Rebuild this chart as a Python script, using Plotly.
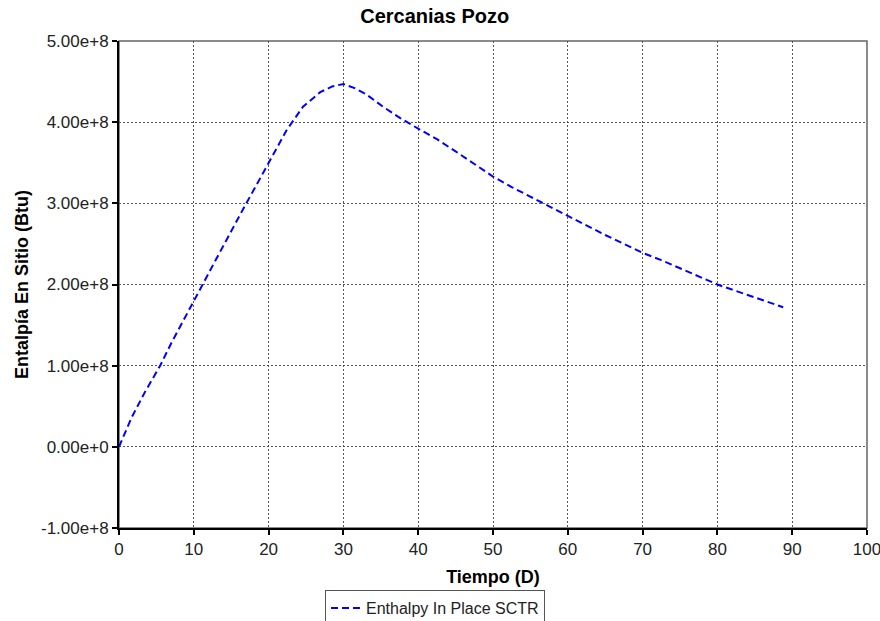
import plotly.graph_objects as go

tiempo = [0, 1.7, 3.5, 5.5, 7.0, 8.6, 10.2, 11.3, 12.8, 14.4, 16.6, 19.3, 20.2, 22.4, 24.6, 26.9, 28.5, 30.0,
          31.5, 33.1, 35.3, 37.6, 40, 42.5, 45, 47.5, 50, 52.5, 55, 57.5, 60, 62.5, 65, 67.5, 70,
          72.5, 75, 77.5, 80, 82.5, 85, 87, 88.8]
entalpia = [0.0, 0.364e8, 0.68e8, 1.0e8, 1.28e8, 1.55e8, 1.82e8, 2.02e8, 2.28e8, 2.56e8, 2.93e8, 3.38e8, 3.53e8,
            3.90e8, 4.19e8, 4.37e8, 4.44e8, 4.47e8,
            4.42e8, 4.34e8, 4.19e8, 4.05e8, 3.92e8, 3.79e8, 3.64e8, 3.49e8, 3.33e8, 3.20e8, 3.08e8, 2.96e8,
            2.84e8, 2.72e8, 2.61e8, 2.50e8, 2.39e8, 2.30e8, 2.20e8, 2.10e8, 2.00e8, 1.92e8, 1.84e8, 1.77e8, 1.72e8]

x_ticks = [0, 10, 20, 30, 40, 50, 60, 70, 80, 90, 100]
y_ticks = [-1e8, 0, 1e8, 2e8, 3e8, 4e8, 5e8]
y_ticktext = ["-1.00e+8", "0.00e+0", "1.00e+8", "2.00e+8", "3.00e+8", "4.00e+8", "5.00e+8"]

font_family = "Arial, Liberation Sans, sans-serif"

fig = go.Figure()
fig.add_trace(go.Scatter(
    x=tiempo, y=entalpia, mode="lines", name="Enthalpy In Place SCTR",
    line=dict(color="#0000FF", width=2, dash="7px,4px"),
))

fig.update_layout(
    width=880, height=621,
    margin=dict(l=119, r=13, t=41, b=93, autoexpand=False),
    paper_bgcolor="white", plot_bgcolor="white",
    font=dict(family=font_family, size=16, color="black"),
    title=dict(text="<b>Cercanias Pozo</b>", x=0.494, xref="container", xanchor="center",
               y=0.985, yref="container", yanchor="top", font=dict(size=20, color="black")),
    showlegend=True,
    legend=dict(orientation="h", x=0.4225, xanchor="center", y=0.0499, yref="container", yanchor="top",
                bordercolor="#555555", borderwidth=1, bgcolor="white",
                font=dict(size=16, color="#222222")),
    shapes=[dict(type="rect", xref="paper", yref="paper", x0=0, y0=0, x1=1, y1=1,
                 line=dict(color="#666666", width=1.5), layer="below")],
)

fig.update_xaxes(
    range=[0, 100], tickvals=x_ticks, ticks="outside", ticklen=5, tickwidth=2, tickcolor="black",
    showline=True, linecolor="black", linewidth=2, zeroline=False, automargin=False,
    ticklabeloverflow="allow",
    showgrid=True, gridcolor="#555555", gridwidth=1, griddash="2px,2px",
    tickfont=dict(size=17, color="#222222"),
    title=dict(text="<b>Tiempo (D)</b>", font=dict(size=18, color="black"), standoff=12),
)
fig.update_yaxes(
    range=[-1e8, 5e8], tickvals=y_ticks, ticktext=y_ticktext, ticks="outside", ticklen=5, tickwidth=2,
    tickcolor="black", showline=True, linecolor="black", linewidth=2, zeroline=False, automargin=False,
    showgrid=True, gridcolor="#555555", gridwidth=1, griddash="2px,2px",
    tickfont=dict(size=17, color="#222222"),
    title=dict(text="<b>Entalpía En Sitio (Btu)</b>", font=dict(size=18, color="black"), standoff=8),
)

fig.write_html("out.html")
